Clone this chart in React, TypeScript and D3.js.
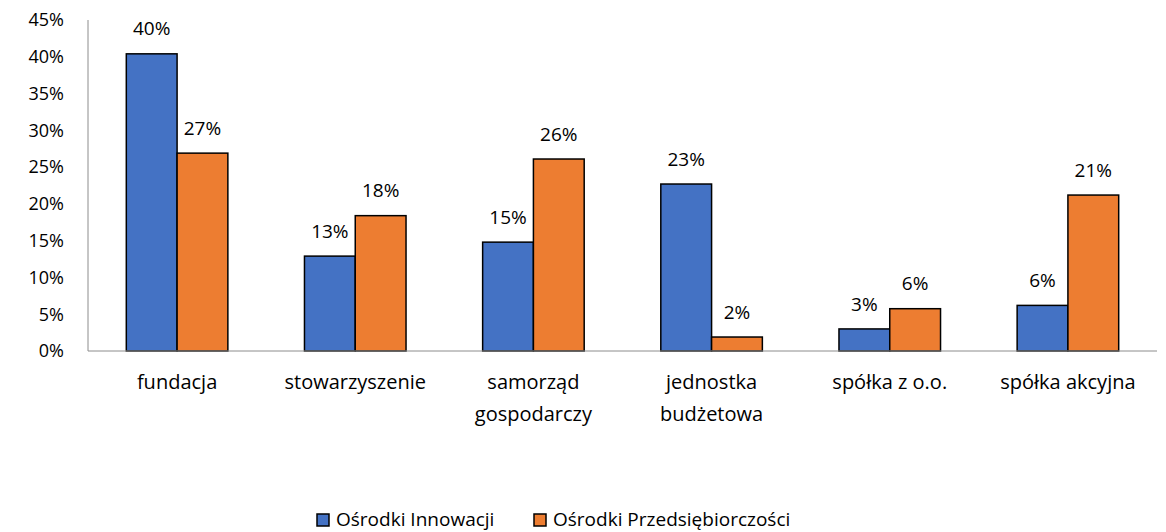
import React from 'react'
import * as d3 from 'd3'

const categories = [
  'fundacja',
  'stowarzyszenie',
  'samorząd\ngospodarczy',
  'jednostka\nbudżetowa',
  'spółka z o.o.',
  'spółka akcyjna',
]
const seriesNames = ['Ośrodki Innowacji', 'Ośrodki Przedsiębiorczości']
const innowacji = [40.4, 12.9, 14.8, 22.7, 3.0, 6.2]
const przedsiebiorczosci = [26.9, 18.4, 26.1, 1.9, 5.75, 21.2]
const yTicks = [0, 5, 10, 15, 20, 25, 30, 35, 40, 45]
const colors = ['#4472C4', '#ED7D31']

const width = 1166
const height = 532
const margin = { top: 20, right: 9, bottom: 181, left: 88 }
const font = '"Open Sans", sans-serif'

const App = () => {
  const series = [innowacji, przedsiebiorczosci]

  // x scale
  const x0 = d3
    .scaleBand()
    .domain(categories)
    .range([margin.left, width - margin.right])
    .paddingInner(0.43)
    .paddingOuter(0.215)

  const x1 = d3
    .scaleBand()
    .domain(seriesNames)
    .range([0, x0.bandwidth()])

  // y scale
  const y = d3
    .scaleLinear()
    .domain([0, 45])
    .range([height - margin.bottom, margin.top])

  const baseY = y(0)

  return (
    <svg
      width={width}
      height={height}
      style={{ position: 'absolute', left: 0, top: 0, background: 'white' }}
      fontFamily={font}
    >
      {/* y axis */}
      <line x1={margin.left} x2={margin.left} y1={y(45)} y2={baseY} stroke="#8c8c8c" strokeWidth={1} />
      {yTicks.map((t) => (
        <text key={t} x={64} y={y(t)} dy="0.35em" textAnchor="end" fontSize={18} fill="#000">
          {t}%
        </text>
      ))}

      {/* bars */}
      {categories.map((c, i) => (
        <g key={c} transform={`translate(${x0(c)}, 0)`}>
          {series.map((s, j) => (
            <rect
              key={j}
              x={x1(seriesNames[j])}
              y={y(s[i])}
              width={x1.bandwidth()}
              height={baseY - y(s[i])}
              fill={colors[j]}
              stroke="#000"
              strokeWidth={1.5}
            />
          ))}
          {series.map((s, j) => (
            <text
              key={'l' + j}
              x={(x1(seriesNames[j]) as number) + x1.bandwidth() / 2}
              y={y(s[i]) - 25}
              dy="0.35em"
              textAnchor="middle"
              fontSize={19}
              fill="#000"
            >
              {Math.round(s[i])}%
            </text>
          ))}
        </g>
      ))}

      {/* x axis */}
      <line x1={margin.left} x2={width - margin.right} y1={baseY} y2={baseY} stroke="#8c8c8c" strokeWidth={1} />
      {categories.map((c) => (
        <text
          key={'c' + c}
          x={(x0(c) as number) + x0.bandwidth() / 2}
          y={382}
          textAnchor="middle"
          fontSize={20}
          fill="#000"
        >
          {c.split('\n').map((line, k) => (
            <tspan key={k} x={(x0(c) as number) + x0.bandwidth() / 2} dy={k === 0 ? '0.35em' : 32}>
              {line}
            </tspan>
          ))}
        </text>
      ))}

      {/* legend */}
      {seriesNames.map((name, j) => {
        const lx = j === 0 ? 317 : 534
        return (
          <g key={name} transform={`translate(${lx}, 526)`}>
            <rect x={0} y={-12} width={12} height={12} fill={colors[j]} stroke="#000" strokeWidth={1.5} />
            <text x={19} y={0} fontSize={19} fill="#000">
              {name}
            </text>
          </g>
        )
      })}
    </svg>
  )
}

export default App
